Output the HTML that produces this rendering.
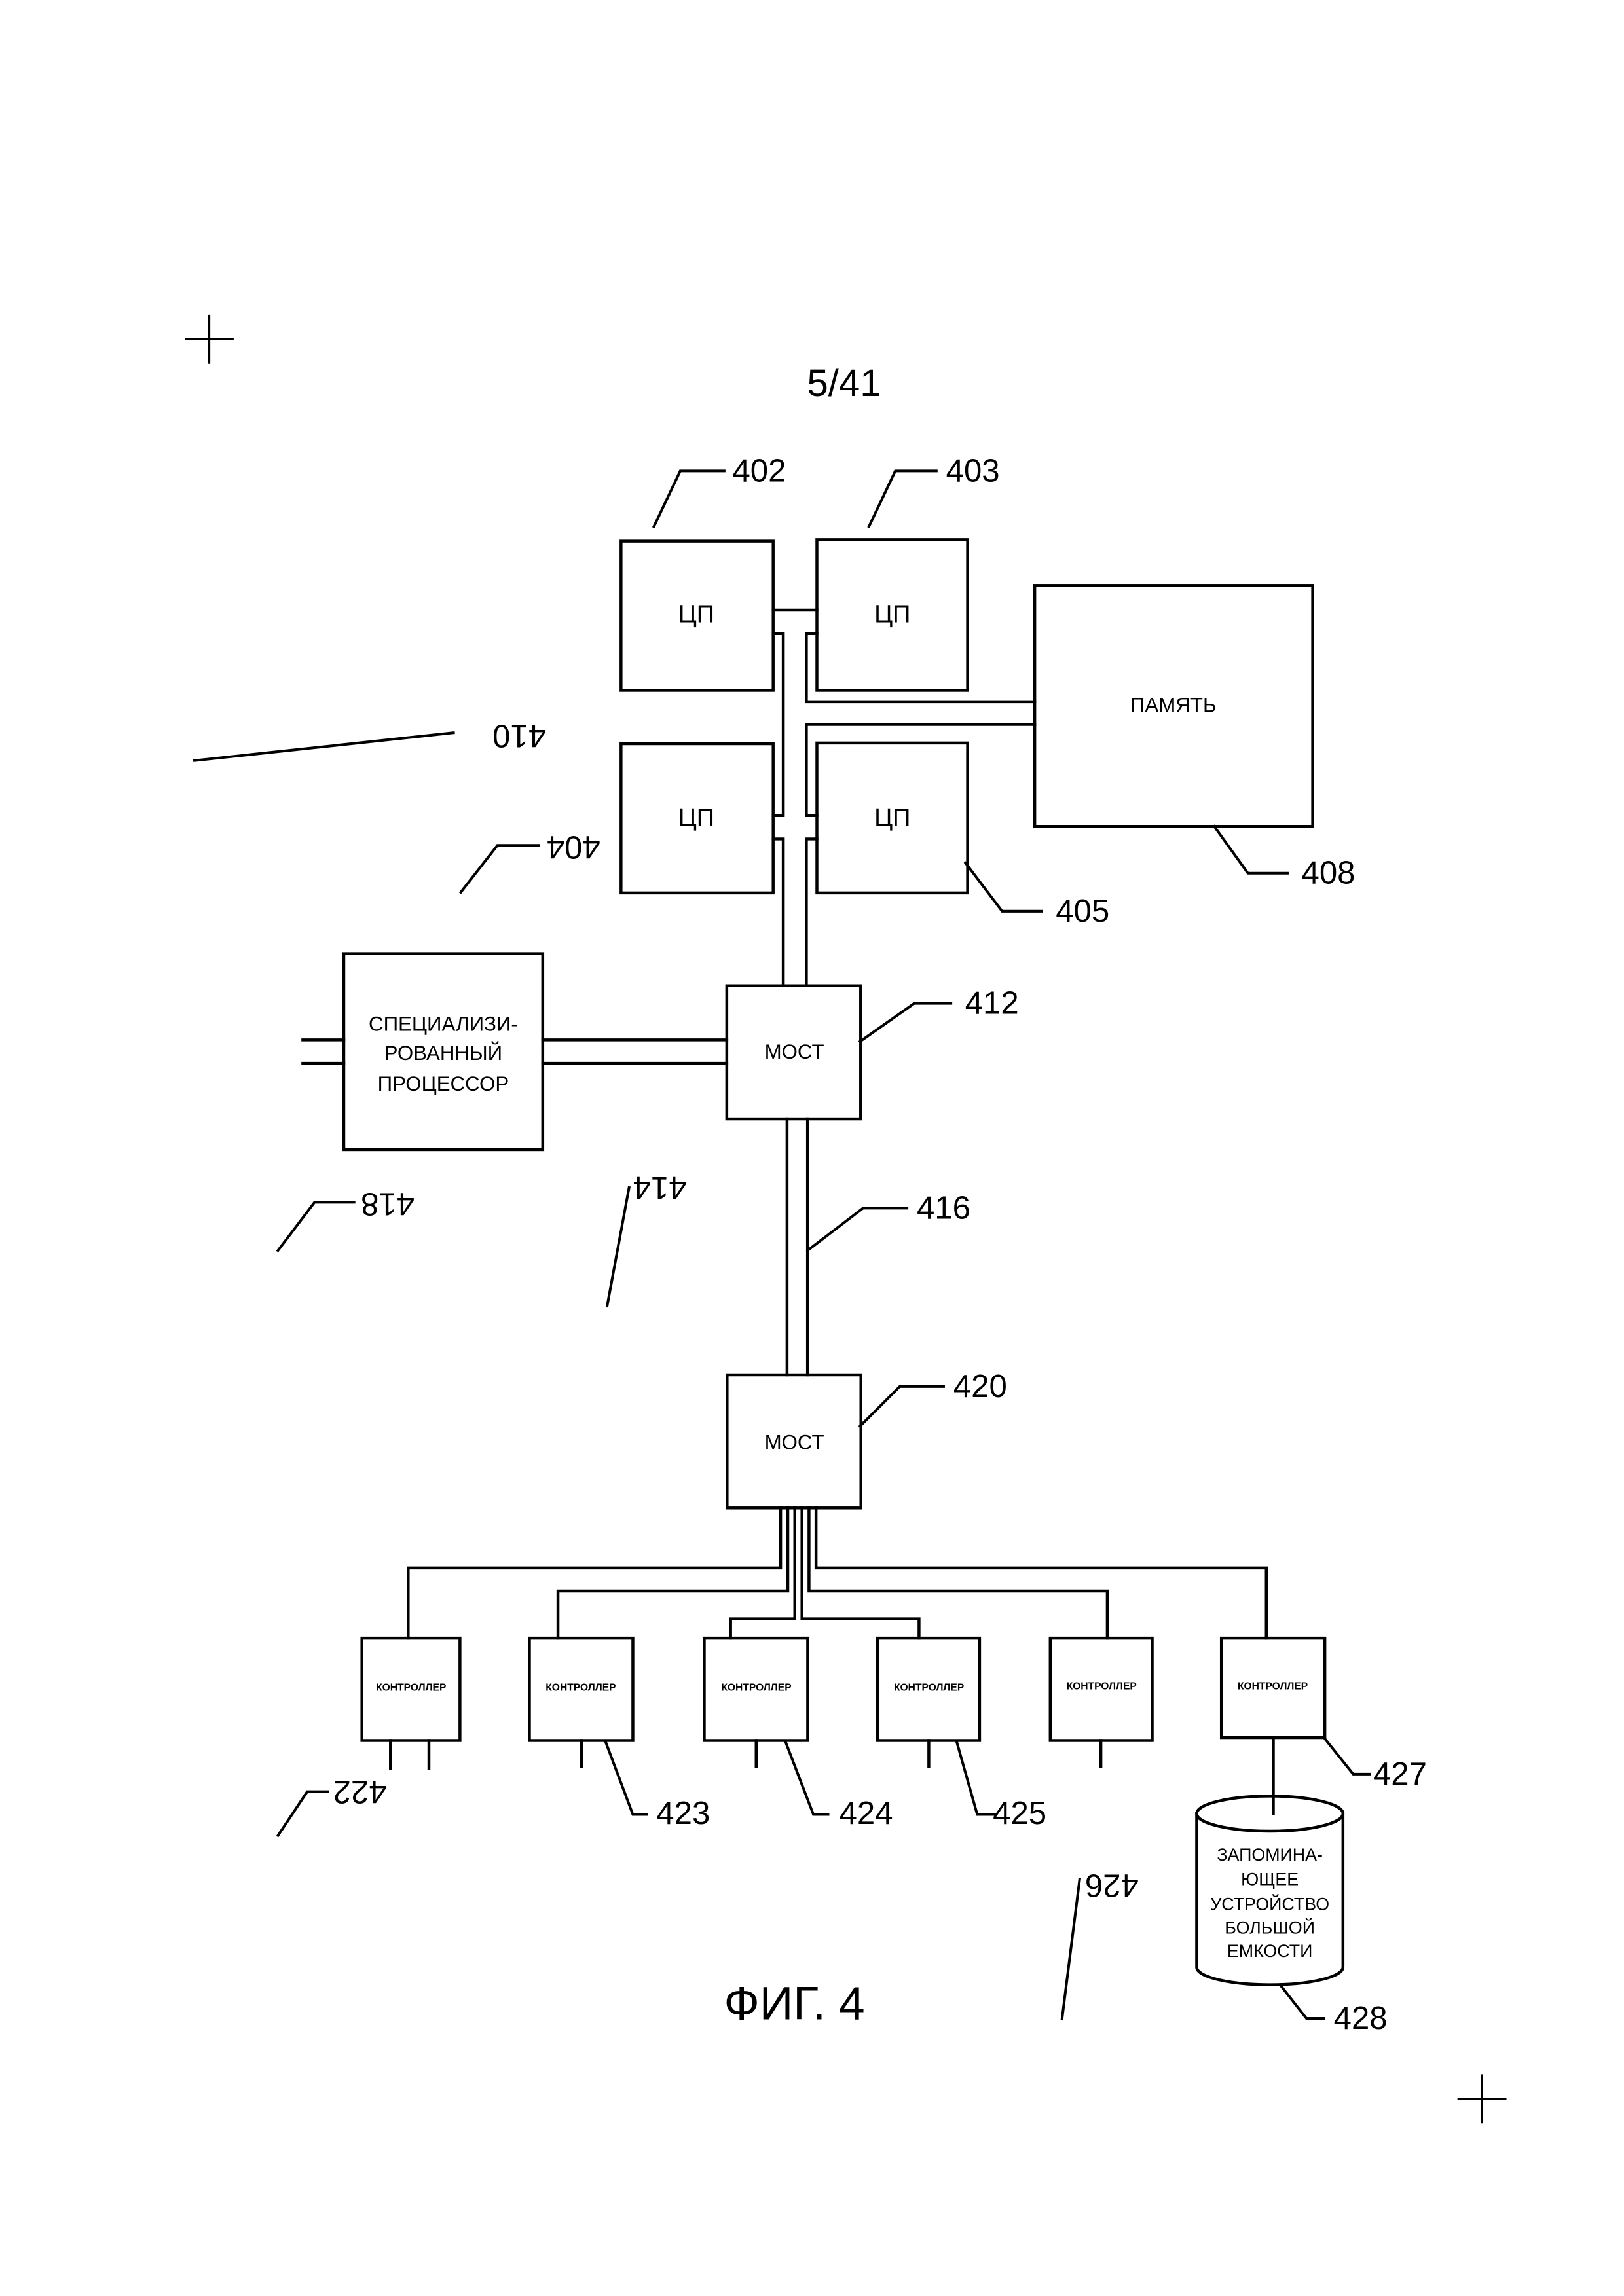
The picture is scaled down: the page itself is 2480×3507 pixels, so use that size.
<!DOCTYPE html>
<html><head><meta charset="utf-8"><style>
html,body{margin:0;padding:0;background:#fff}
svg{display:block}
text{font-family:"Liberation Sans",sans-serif;fill:#000}
</style></head><body>
<svg width="2480" height="3507" viewBox="0 0 1110.1 1569.8" xmlns="http://www.w3.org/2000/svg">
<g stroke="#000" stroke-width="2" fill="none" stroke-linecap="square">
<path d="M127 232H159M143 216V248M997 1435H1029M1013 1419V1451" stroke-width="1.5"/>
<rect x="424.5" y="370" width="104" height="102"/>
<rect x="558.4" y="369" width="103" height="103"/>
<rect x="424.5" y="508.5" width="104" height="102"/>
<rect x="558.4" y="508" width="103" height="102.5"/>
<rect x="707.3" y="400.3" width="190" height="164.7"/>
<path d="M528.5 417.2H558.4"/>
<path d="M528.5 433.2H535.4V557.6H528.5"/>
<path d="M528.5 573.6H535.4V674"/>
<path d="M558.4 433.2H551.2V479.8H707.3"/>
<path d="M707.3 495.3H551.2V557.6H558.4"/>
<path d="M558.4 573.6H551.2V674"/>
<rect x="496.8" y="674" width="91.5" height="91"/>
<rect x="235" y="652" width="136" height="134"/>
<path d="M371 711H496.8M371 727H496.8M207 711H235M207 727H235"/>
<path d="M538 765V940M552 765V940"/>
<rect x="497" y="940" width="91.5" height="91"/>
<path d="M533.6 1031V1072H279V1120"/>
<path d="M557.8 1031V1072H865.6V1120"/>
<path d="M538.5 1031V1087.7H381.4V1120"/>
<path d="M553 1031V1087.7H756.9V1120"/>
<path d="M543.3 1031V1106.8H499.4V1120"/>
<path d="M548.2 1031V1106.8H628.2V1120"/>
<rect x="247.4" y="1120" width="67" height="70"/>
<rect x="361.9" y="1120" width="70.7" height="70"/>
<rect x="481.4" y="1120" width="70.7" height="70"/>
<rect x="599.9" y="1120" width="69.7" height="70"/>
<rect x="717.9" y="1120" width="69.7" height="70"/>
<rect x="834.9" y="1120" width="70.7" height="68"/>
<path d="M266.9 1190V1209M293.2 1190V1209M397.6 1190V1208M516.9 1190V1208M634.9 1190V1208M752.5 1190V1208M870.4 1188V1240"/>
<path d="M818 1240V1345A50 12 0 0 0 918 1345V1240"/>
<ellipse cx="868" cy="1240" rx="50" ry="12"/>
<g stroke-width="1.8">
<path d="M447 360L465 322H495"/>
<path d="M594 360L612 322H640"/>
<path d="M830 565L853 597H880"/>
<path d="M660 590L685 623H712"/>
<path d="M588 712L625 686H650"/>
<path d="M588 975L615 948H645"/>
<path d="M552 855L590 826H620"/>
<path d="M414 1191L432.6 1240.6H442"/>
<path d="M537 1191L556 1240.6H566"/>
<path d="M654 1191L668 1240.6H680"/>
<path d="M905 1188L925 1213H936"/>
<path d="M875 1357L893 1380H905"/>
<path d="M133 520L310 501"/>
<path d="M315 610L340 578H368"/>
<path d="M190 855L215 822H242"/>
<path d="M415 893L430 812"/>
<path d="M190 1255L210 1225H224"/>
<path d="M726 1380L738 1285"/>
</g>
</g>
<g font-size="22" text-anchor="middle" dominant-baseline="central">
<text x="577" y="262" font-size="26">5/41</text>
<text x="519" y="322">402</text>
<text x="665" y="322">403</text>
<text x="908" y="597">408</text>
<text x="740" y="623">405</text>
<text x="678" y="686">412</text>
<text x="670" y="948">420</text>
<text x="645" y="826">416</text>
<text x="467" y="1240">423</text>
<text x="592" y="1240">424</text>
<text x="697" y="1240">425</text>
<text x="957" y="1213">427</text>
<text x="930" y="1380">428</text>
<text x="355" y="503" transform="rotate(180 355 503)">410</text>
<text x="392" y="579" transform="rotate(180 392 579)">404</text>
<text x="265" y="823" transform="rotate(180 265 823)">418</text>
<text x="451" y="812" transform="rotate(180 451 812)">414</text>
<text x="246" y="1225" transform="rotate(180 246 1225)">422</text>
<text x="760" y="1289" transform="rotate(180 760 1289)">426</text>
<text x="543" y="1370" font-size="32">ФИГ. 4</text>
<g font-size="17"><text x="476" y="420">ЦП</text><text x="610" y="420">ЦП</text><text x="476" y="559">ЦП</text><text x="610" y="559">ЦП</text></g>
<g font-size="14"><text x="802" y="482">ПАМЯТЬ</text><text x="543" y="719">МОСТ</text><text x="543" y="986">МОСТ</text>
<text x="303" y="700">СПЕЦИАЛИЗИ-</text><text x="303" y="720">РОВАННЫЙ</text><text x="303" y="741">ПРОЦЕССОР</text></g>
<g font-size="12"><text x="868" y="1268">ЗАПОМИНА-</text><text x="868" y="1285">ЮЩЕЕ</text><text x="868" y="1302">УСТРОЙСТВО</text><text x="868" y="1318">БОЛЬШОЙ</text><text x="868" y="1334">ЕМКОСТИ</text></g>
<g font-size="7" font-weight="bold"><text x="281" y="1154">КОНТРОЛЛЕР</text><text x="397" y="1154">КОНТРОЛЛЕР</text><text x="517" y="1154">КОНТРОЛЛЕР</text><text x="635" y="1154">КОНТРОЛЛЕР</text><text x="753" y="1153">КОНТРОЛЛЕР</text><text x="870" y="1153">КОНТРОЛЛЕР</text></g>
</g>
</svg>
</body></html>
